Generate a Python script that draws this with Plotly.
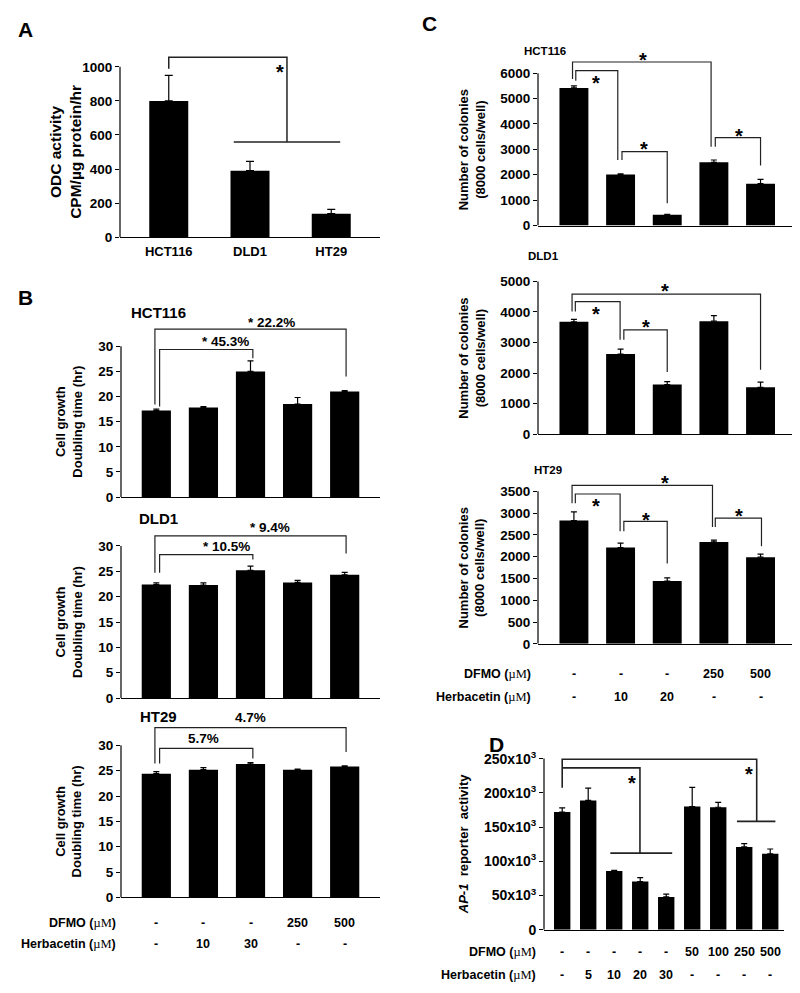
import plotly.graph_objects as go

W, H = 800, 993
FONT = "Liberation Sans, Arial, Helvetica, sans-serif"
SERIF_UM = "<span style=\"font-family:'Liberation Serif','Times New Roman',serif;font-weight:normal\">µM</span>"

# ---------------- data ----------------
a_cells = ["HCT116", "DLD1", "HT29"]
a_odc = [800, 390, 138]
a_odc_err = [150, 55, 25]

b_hct116 = [17.2, 17.8, 25.0, 18.5, 21.0]
b_hct116_err = [0.3, 0.2, 2.1, 1.3, 0.2]
b_dld1 = [22.4, 22.3, 25.2, 22.8, 24.3]
b_dld1_err = [0.3, 0.4, 0.8, 0.4, 0.5]
b_ht29 = [24.4, 25.2, 26.3, 25.2, 25.8]
b_ht29_err = [0.4, 0.4, 0.3, 0.1, 0.15]
b_dfmo = ["-", "-", "-", "250", "500"]
b_herb = ["-", "10", "30", "-", "-"]
b_pct_inner = ["* 45.3%", "* 10.5%", "5.7%"]
b_pct_outer = ["* 22.2%", "* 9.4%", "4.7%"]

c_hct116 = [5420, 2010, 420, 2490, 1650]
c_hct116_err = [80, 30, 20, 90, 170]
c_dld1 = [3680, 2620, 1620, 3700, 1530]
c_dld1_err = [75, 160, 100, 180, 170]
c_ht29 = [2830, 2210, 1440, 2340, 1990]
c_ht29_err = [200, 100, 75, 40, 70]
c_dfmo = ["-", "-", "-", "250", "500"]
c_herb = ["-", "10", "20", "-", "-"]

d_ap1 = [172e3, 189e3, 86e3, 70.5e3, 48e3, 180e3, 179e3, 121e3, 111e3]
d_ap1_err = [6e3, 18e3, 1e3, 5.8e3, 4e3, 28e3, 7e3, 5e3, 7e3]
d_dfmo = ["-", "-", "-", "-", "-", "50", "100", "250", "500"]
d_herb = ["-", "5", "10", "20", "30", "-", "-", "-", "-"]
d_tickvals = [0, 50e3, 100e3, 150e3, 200e3, 250e3]
d_ticktext = ["0", "50x10<sup>3</sup>", "100x10<sup>3</sup>", "150x10<sup>3</sup>",
              "200x10<sup>3</sup>", "250x10<sup>3</sup>"]

fig = go.Figure()
layout = {}
shapes = []
anns = []


def py(p):
    return 1 - p / H


def names(i):
    s = "" if i == 1 else str(i)
    return "x" + s, "y" + s, "xaxis" + s, "yaxis" + s


def panel(i, vals, errs, xdom, xrange, zero, tickpx, tickval, toppx, tickvals,
          ticktext=None, bar_w=0.62, cap=3, tick_size=13.5):
    xa, ya, xk, yk = names(i)
    ymax = tickval * (zero - toppx) / (zero - tickpx)
    fig.add_trace(go.Bar(
        x=list(range(len(vals))), y=vals, width=bar_w, xaxis=xa, yaxis=ya,
        marker=dict(color="black", line=dict(width=0)),
        error_y=dict(type="data", array=errs, arrayminus=[0] * len(errs),
                     symmetric=False, color="black", thickness=1.2, width=cap),
        showlegend=False, hoverinfo="skip"))
    layout[xk] = dict(domain=[xdom[0] / W, xdom[1] / W], range=xrange, anchor=ya,
                      showline=True, linecolor="black", linewidth=1.2,
                      showgrid=False, zeroline=False, ticks="",
                      showticklabels=False, fixedrange=True)
    yax = dict(domain=[py(zero), py(toppx)], range=[0, ymax], anchor=xa,
               showline=False, showgrid=False, zeroline=False,
               ticks="outside", ticklen=4, tickwidth=1.2, tickcolor="black",
               tickvals=tickvals,
               tickfont=dict(size=tick_size, color="black"),
               fixedrange=True)
    if ticktext is not None:
        yax["ticktext"] = ticktext
    layout[yk] = yax
    shapes.append(dict(type="line", xref=xa + " domain", yref=ya, x0=0, x1=0,
                       y0=0, y1=tickval, line=dict(color="black", width=1.2)))
    return xa, ya


def bracket(xa, ya, x0, x1, ytop, yl, yr, w=1.2):
    shapes.append(dict(type="path", xref=xa, yref=ya,
                       path=f"M {x0},{yl} L {x0},{ytop} L {x1},{ytop} L {x1},{yr}",
                       line=dict(color="#222", width=w)))


def hline(xa, ya, x0, x1, y, w=1.2):
    shapes.append(dict(type="line", xref=xa, yref=ya, x0=x0, x1=x1, y0=y, y1=y,
                       line=dict(color="#222", width=w)))


def text(t, x, y, xref="paper", yref="paper", size=12.5, xanchor="center",
         yanchor="middle", angle=0, yshift=0):
    if xref == "paper":
        x = x / W
    if yref == "paper":
        y = py(y)
    anns.append(dict(text=t, x=x, y=y, xref=xref, yref=yref, showarrow=False,
                     xanchor=xanchor, yanchor=yanchor, textangle=angle,
                     yshift=yshift, font=dict(size=size, color="black")))


def star(xa, ya, x, y, size=20):
    text("*", x, y, xa, ya, size=size, yshift=-5)


# ---------------- Panel A ----------------
xa, ya = panel(1, a_odc, a_odc_err, (112, 372), [-0.6, 2.6], 231, 59.3, 1000, 35,
               [0, 200, 400, 600, 800, 1000], bar_w=0.48, cap=4)
layout["xaxis"].update(showticklabels=True, tickvals=[0, 1, 2], ticktext=a_cells,
                       tickfont=dict(size=13, color="black"), ticklabelstandoff=2)
bracket(xa, ya, 0, 1.455, 1056, 988, 558, w=1.5)
hline(xa, ya, 0.80, 2.11, 558, w=1.5)
star(xa, ya, 1.37, 1000)
text("A", 17, 22, size=21)
text("ODC activity<br>CPM/µg protein/hr", 58, 145, size=15.5, angle=-90)

# ---------------- Panel B ----------------
b_sets = [
    (2, b_hct116, b_hct116_err, 493, 341, 300, "HCT116", 306.7),
    (3, b_dld1, b_dld1_err, 695.7, 542.3, 505, "DLD1", 515),
    (4, b_ht29, b_ht29_err, 896.7, 743.3, 705, "HT29", 714),
]
b_brk = [
    (33.4, 18.4, 24.0, 29.35, 18.0, 27.6),
    (32.0, 24.7, 28.5, 28.3, 24.7, 27.3),
    (33.5, 26.4, 28.7, 29.4, 26.4, 27.4),
]
b_txt_y = [(31.0, 34.7), (29.9, 33.7), (31.3, 35.5)]
b_txt_x = [(1.47, 2.44), (1.5, 2.42), (1.0, 2.0)]
for k, (i, v, e, zero, tpx, top, title, ty) in enumerate(b_sets):
    xa, ya = panel(i, v, e, (113, 372), [-0.75, 4.75], zero, tpx, 30, top,
                   [0, 5, 10, 15, 20, 25, 30], bar_w=0.62, cap=3)
    ot, ol, orb, it, il, irb = b_brk[k]
    bracket(xa, ya, -0.03, 4.03, ot, ol, orb)
    bracket(xa, ya, 0.07, 2.05, it, il, irb)
    text(b_pct_inner[k], b_txt_x[k][0], b_txt_y[k][0], xa, ya, size=13.5)
    text(b_pct_outer[k], b_txt_x[k][1], b_txt_y[k][1], xa, ya, size=13.5)
    text(title, 150, ty, size=15)
    text("Cell growth<br>Doubling time (hr)", 61, (zero + tpx) / 2, size=13, angle=-90)
text("B", 17, 292, size=21)
text("DFMO (" + SERIF_UM + ")", 110, 922.7, size=12.5, xanchor="right")
text("Herbacetin (" + SERIF_UM + ")", 110, 944, size=12.5, xanchor="right")
for j in range(5):
    text(b_dfmo[j], j, 922.7, "x4", "paper", size=12.5)
    text(b_herb[j], j, 944, "x4", "paper", size=12.5)

# ---------------- Panel C ----------------
xa, ya = panel(5, c_hct116, c_hct116_err, (530, 788), [-0.77, 4.76], 219.3, 65.7, 6000, 30,
               [0, 1000, 2000, 3000, 4000, 5000, 6000])
bracket(xa, ya, -0.03, 2.94, 6440, 5770, 3100)
bracket(xa, ya, 0.04, 0.94, 6100, 5700, 2580)
bracket(xa, ya, 1.03, 2.0, 2910, 2580, 880)
bracket(xa, ya, 3.03, 4.0, 3460, 3100, 2360)
star(xa, ya, 1.48, 6720)
star(xa, ya, 0.47, 5800)
star(xa, ya, 1.5, 3220)
star(xa, ya, 3.53, 3740)
text("HCT116", 537, 43, size=11.5)
text("Number of colonies<br>(8000 cells/well)", 464, 142.5, size=13, angle=-90)

xa, ya = panel(6, c_dld1, c_dld1_err, (530, 788), [-0.77, 4.76], 429.5, 275.7, 5000, 250,
               [0, 1000, 2000, 3000, 4000, 5000])
bracket(xa, ya, -0.04, 4.0, 4587, 4020, 2110)
bracket(xa, ya, 0.03, 0.99, 4337, 4020, 3087)
bracket(xa, ya, 1.07, 2.0, 3413, 3087, 2033)
star(xa, ya, 1.96, 4860)
star(xa, ya, 0.47, 4100)
star(xa, ya, 1.54, 3663)
text("DLD1", 535, 250, size=11.5)
text("Number of colonies<br>(8000 cells/well)", 464, 352.6, size=13, angle=-90)

xa, ya = panel(7, c_ht29, c_ht29_err, (530, 788), [-0.77, 4.76], 641, 487.3, 3500, 465,
               [0, 500, 1000, 1500, 2000, 2500, 3000, 3500])
bracket(xa, ya, -0.04, 2.97, 3637, 3227, 2680)
bracket(xa, ya, 0.03, 0.99, 3440, 3227, 2582)
bracket(xa, ya, 1.07, 2.0, 2810, 2582, 1845)
bracket(xa, ya, 3.03, 4.02, 2885, 2680, 2240)
star(xa, ya, 1.96, 3804)
star(xa, ya, 0.47, 3272)
star(xa, ya, 1.54, 2969)
star(xa, ya, 3.53, 3060)
text("HT29", 540, 466, size=11.5)
text("Number of colonies<br>(8000 cells/well)", 464, 564, size=13, angle=-90)
text("C", 421, 16, size=21)
text("DFMO (" + SERIF_UM + ")", 525, 671, size=12.5, xanchor="right")
text("Herbacetin (" + SERIF_UM + ")", 525, 695, size=12.5, xanchor="right")
for j in range(5):
    text(c_dfmo[j], j, 671, "x7", "paper", size=12.5)
    text(c_herb[j], j, 695, "x7", "paper", size=12.5)

# ---------------- Panel D ----------------
xa, ya = panel(8, d_ap1, d_ap1_err, (536, 776), [-0.7, 8.53], 929.3, 756.7, 250e3, 740,
               d_tickvals, ticktext=d_ticktext, bar_w=0.63, cap=3, tick_size=14)
bracket(xa, ya, 0, 7.48, 249e3, 207.5e3, 158.3e3, w=1.6)
hline(xa, ya, 6.72, 8.2, 158.3e3, w=1.6)
bracket(xa, ya, 0, 2.99, 236.5e3, 236.5e3, 112e3, w=1.6)
hline(xa, ya, 1.85, 4.23, 112e3, w=1.6)
star(xa, ya, 2.67, 221e3)
star(xa, ya, 7.2, 235.5e3)
text("D", 489, 742, size=21)
text("<i>AP-1</i>\u00a0\u00a0reporter\u00a0\u00a0activity", 455, 843, size=13, angle=-90)
text("DFMO (" + SERIF_UM + ")", 530, 952, size=12.5, xanchor="right")
text("Herbacetin (" + SERIF_UM + ")", 530, 975, size=12.5, xanchor="right")
for j in range(9):
    text(d_dfmo[j], j, 952, "x8", "paper", size=12.5)
    text(d_herb[j], j, 975, "x8", "paper", size=12.5)

fig.update_layout(**layout)
fig.update_layout(
    width=W, height=H, margin=dict(l=0, r=0, t=0, b=0),
    paper_bgcolor="white", plot_bgcolor="white",
    font=dict(family=FONT, color="black", weight="bold", size=12.5),
    shapes=shapes, annotations=anns, bargap=0.3, showlegend=False,
)
fig.write_html("out.html")
